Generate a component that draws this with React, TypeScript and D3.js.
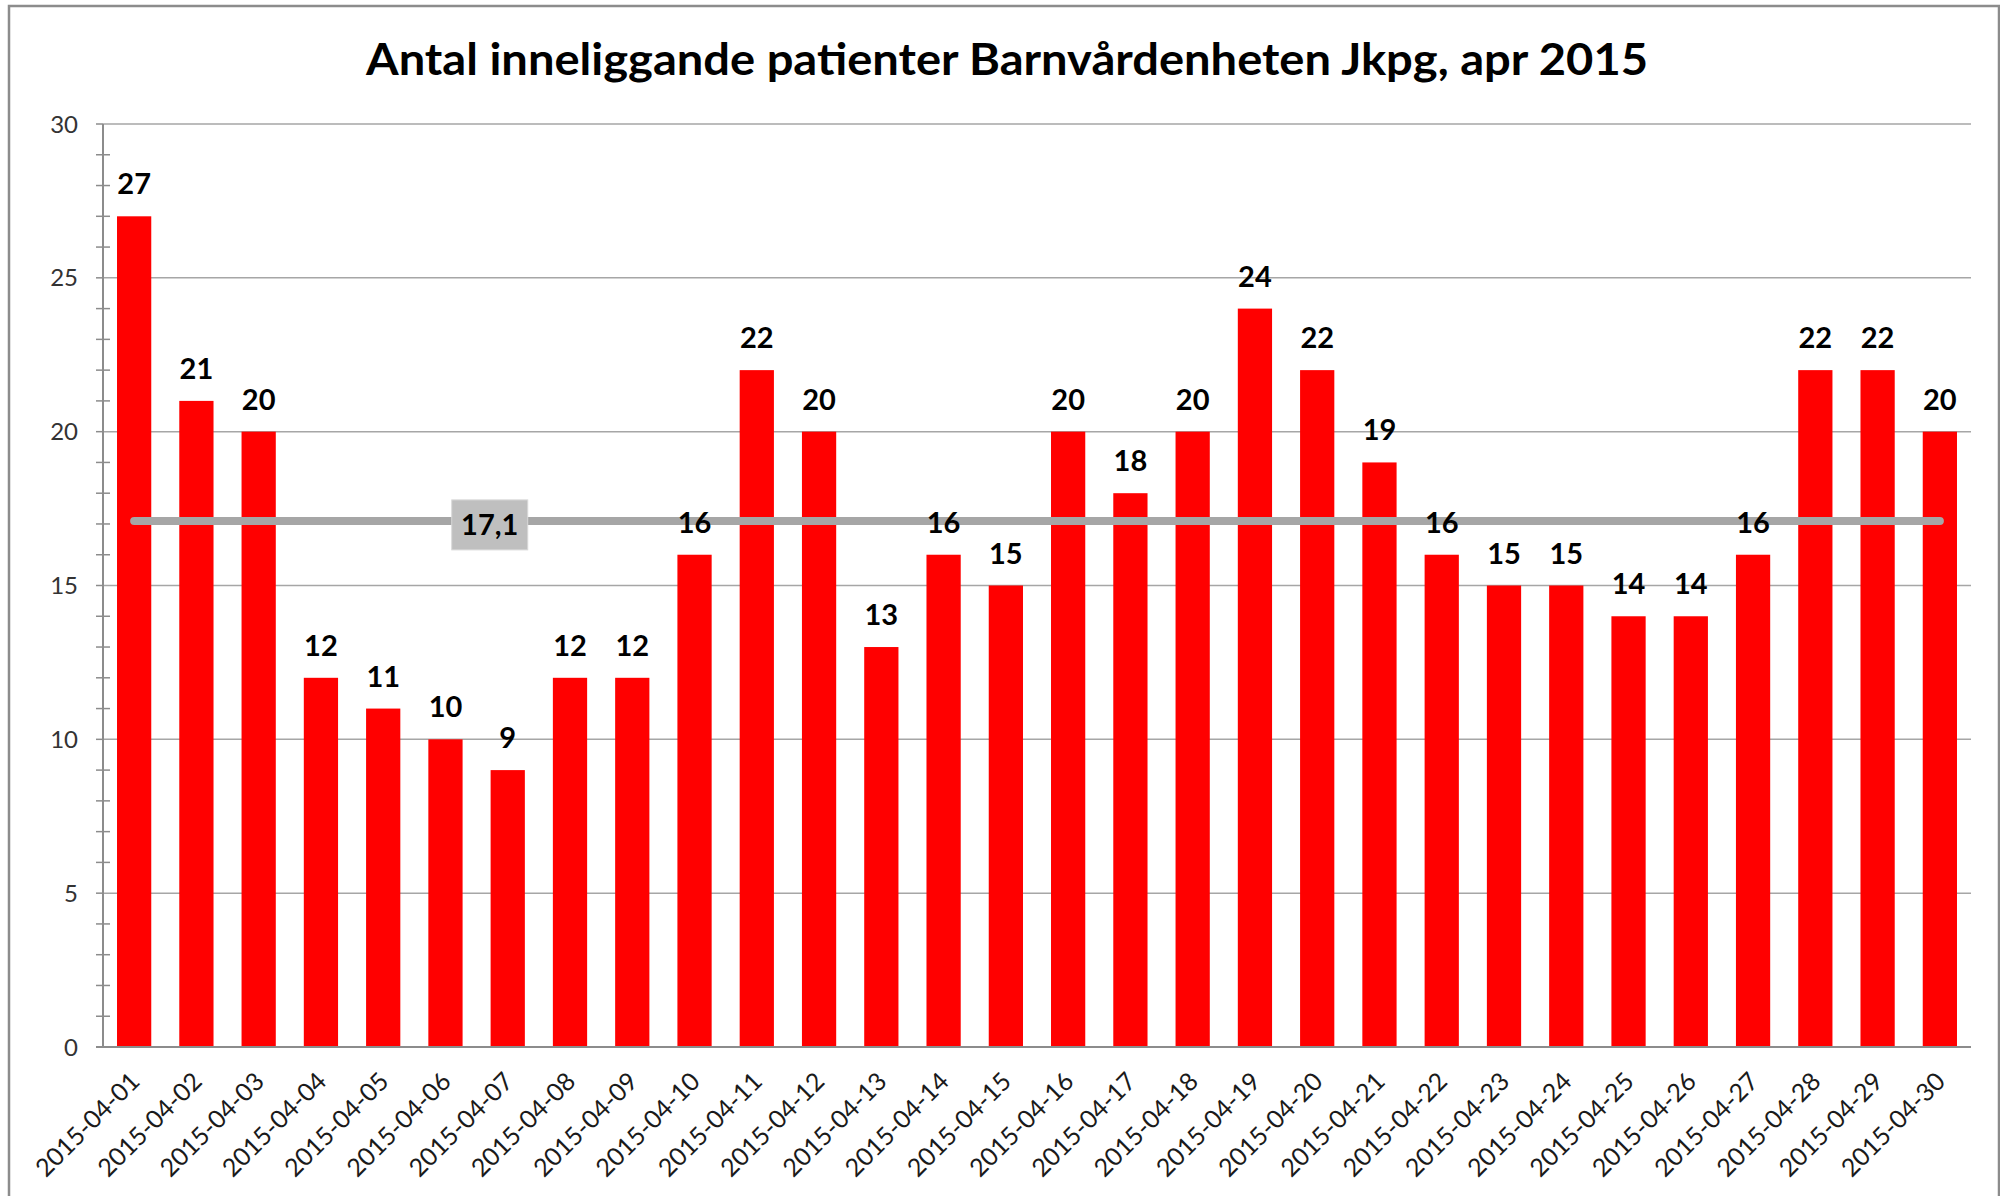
import * as d3 from "d3";
import { useEffect, useRef } from "react";

const TITLE = "Antal inneliggande patienter Barnvårdenheten Jkpg, apr 2015";

const DATES = [
  "2015-04-01", "2015-04-02", "2015-04-03", "2015-04-04", "2015-04-05",
  "2015-04-06", "2015-04-07", "2015-04-08", "2015-04-09", "2015-04-10",
  "2015-04-11", "2015-04-12", "2015-04-13", "2015-04-14", "2015-04-15",
  "2015-04-16", "2015-04-17", "2015-04-18", "2015-04-19", "2015-04-20",
  "2015-04-21", "2015-04-22", "2015-04-23", "2015-04-24", "2015-04-25",
  "2015-04-26", "2015-04-27", "2015-04-28", "2015-04-29", "2015-04-30",
];

const PATIENTS = [
  27, 21, 20, 12, 11, 10, 9, 12, 12, 16,
  22, 20, 13, 16, 15, 20, 18, 20, 24, 22,
  19, 16, 15, 15, 14, 14, 16, 22, 22, 20,
];

const Y_TICKS = [0, 5, 10, 15, 20, 25, 30];
const AVERAGE_LABEL = "17,1";

const FONT = "Lato, 'Open Sans', sans-serif";

const WIDTH = 2000;
const HEIGHT = 1196;
const LEFT = 103;
const RIGHT = 1971;
const TOP = 124;
const BOTTOM = 1047;

const App = () => {
  const svgRef = useRef<SVGSVGElement>(null);

  useEffect(() => {
    if (!svgRef.current) return;
    const svg = d3.select(svgRef.current);
    svg.selectAll("*").remove();

    const x = d3
      .scaleBand<string>()
      .domain(DATES)
      .range([LEFT, RIGHT])
      .paddingInner(0.45)
      .paddingOuter(0.225);

    const y = d3.scaleLinear().domain([0, 30]).range([BOTTOM, TOP]);

    const mean = d3.mean(PATIENTS) ?? 0;

    // outer frame
    svg
      .append("rect")
      .attr("x", 9)
      .attr("y", 6)
      .attr("width", WIDTH - 10)
      .attr("height", HEIGHT + 20)
      .attr("fill", "white")
      .attr("stroke", "#8c8c8c")
      .attr("stroke-width", 2.5);

    svg
      .append("text")
      .attr("x", 1007)
      .attr("y", 75)
      .attr("text-anchor", "middle")
      .attr("font-family", FONT)
      .attr("font-weight", 700)
      .attr("font-size", 44)
      .attr("textLength", 1282)
      .attr("lengthAdjust", "spacingAndGlyphs")
      .attr("fill", "#000")
      .text(TITLE);

    // gridlines
    svg
      .append("g")
      .selectAll("line")
      .data(Y_TICKS.filter((t) => t > 0))
      .enter()
      .append("line")
      .attr("x1", LEFT)
      .attr("x2", RIGHT)
      .attr("y1", (d) => y(d))
      .attr("y2", (d) => y(d))
      .attr("stroke", "#a6a6a6")
      .attr("stroke-width", 1.5);

    // minor ticks on the y axis
    svg
      .append("g")
      .selectAll("line")
      .data(d3.range(1, 30).filter((v) => v % 5 !== 0))
      .enter()
      .append("line")
      .attr("x1", LEFT - 7)
      .attr("x2", LEFT + 7)
      .attr("y1", (d) => y(d))
      .attr("y2", (d) => y(d))
      .attr("stroke", "#8c8c8c")
      .attr("stroke-width", 1.5);

    // major ticks
    svg
      .append("g")
      .selectAll("line")
      .data(Y_TICKS)
      .enter()
      .append("line")
      .attr("x1", LEFT - 7)
      .attr("x2", LEFT)
      .attr("y1", (d) => y(d))
      .attr("y2", (d) => y(d))
      .attr("stroke", "#8c8c8c")
      .attr("stroke-width", 1.5);

    svg
      .append("g")
      .selectAll("text")
      .data(Y_TICKS)
      .enter()
      .append("text")
      .attr("x", 78)
      .attr("y", (d) => y(d))
      .attr("dy", "0.36em")
      .attr("text-anchor", "end")
      .attr("font-family", FONT)
      .attr("font-size", 24)
      .attr("fill", "#333")
      .text((d) => d);

    // bars
    svg
      .append("g")
      .selectAll("rect")
      .data(PATIENTS)
      .enter()
      .append("rect")
      .attr("x", (_, i) => x(DATES[i]) ?? 0)
      .attr("y", (d) => y(d))
      .attr("width", x.bandwidth())
      .attr("height", (d) => y(0) - y(d))
      .attr("fill", "#ff0000");

    // axes lines
    svg
      .append("line")
      .attr("x1", LEFT)
      .attr("x2", LEFT)
      .attr("y1", TOP)
      .attr("y2", BOTTOM)
      .attr("stroke", "#8c8c8c")
      .attr("stroke-width", 2);

    svg
      .append("line")
      .attr("x1", LEFT - 7)
      .attr("x2", RIGHT)
      .attr("y1", BOTTOM)
      .attr("y2", BOTTOM)
      .attr("stroke", "#8c8c8c")
      .attr("stroke-width", 2);

    // average line, drawn over the bars
    const center = (d: string) => (x(d) ?? 0) + x.bandwidth() / 2;
    svg
      .append("line")
      .attr("x1", center(DATES[0]))
      .attr("x2", center(DATES[DATES.length - 1]))
      .attr("y1", y(mean))
      .attr("y2", y(mean))
      .attr("stroke", "#a6a6a6")
      .attr("stroke-width", 8)
      .attr("stroke-linecap", "round");

    // value labels
    svg
      .append("g")
      .selectAll("text")
      .data(PATIENTS)
      .enter()
      .append("text")
      .attr("x", (_, i) => center(DATES[i]))
      .attr("y", (d) => y(d) - 22)
      .attr("text-anchor", "middle")
      .attr("font-family", FONT)
      .attr("font-weight", 700)
      .attr("font-size", 29)
      .attr("fill", "#000")
      .text((d) => d);

    // average label
    const avgX = center(DATES[6]) - 18;
    const avgG = svg.append("g").attr("transform", `translate(${avgX},${y(mean)})`);
    avgG
      .append("rect")
      .attr("x", -38)
      .attr("y", -21)
      .attr("width", 76)
      .attr("height", 50)
      .attr("fill", "#bfbfbf")
      .attr("stroke", "#d9d9d9")
      .attr("stroke-width", 1);
    avgG
      .append("text")
      .attr("x", 0)
      .attr("y", 4)
      .attr("dy", "0.36em")
      .attr("text-anchor", "middle")
      .attr("font-family", FONT)
      .attr("font-weight", 700)
      .attr("font-size", 29)
      .attr("fill", "#000")
      .text(AVERAGE_LABEL);

    // x labels
    svg
      .append("g")
      .selectAll("text")
      .data(DATES)
      .enter()
      .append("text")
      .attr(
        "transform",
        (d) => `translate(${center(d) + 7},${BOTTOM + 36}) rotate(-45)`
      )
      .attr("text-anchor", "end")
      .attr("font-family", FONT)
      .attr("font-size", 25)
      .attr("fill", "#1a1a1a")
      .text((d) => d);
  }, []);

  return (
    <svg
      ref={svgRef}
      width={WIDTH}
      height={HEIGHT}
      style={{ position: "absolute", left: 0, top: 0, background: "white" }}
    />
  );
};

export default App;
